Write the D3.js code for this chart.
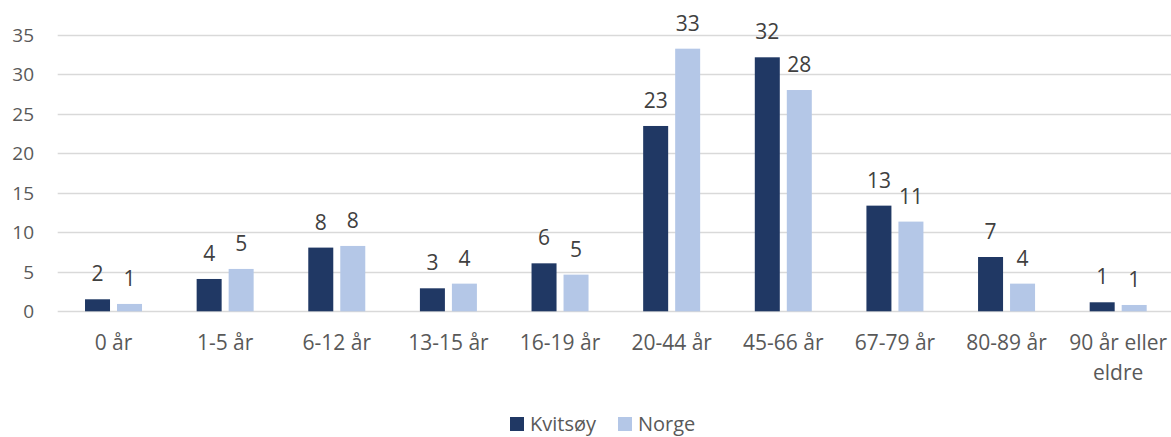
<!DOCTYPE html>
<html>
<head>
<meta charset="utf-8">
<script src="https://cdn.jsdelivr.net/npm/d3@7"></script>
<style>
  body { margin: 0; background: #fff; }
  svg text { font-family: "Open Sans", "Noto Sans", sans-serif; }
</style>
</head>
<body>
<div id="chart"></div>
<script>
var categories = ["0 år", "1-5 år", "6-12 år", "13-15 år", "16-19 år", "20-44 år", "45-66 år", "67-79 år", "80-89 år", "90 år eller eldre"];
var seriesNames = ["Kvitsøy", "Norge"];
var kvitsoy = [1.52, 4.09, 8.06, 2.91, 6.07, 23.45, 32.14, 13.37, 6.87, 1.14];
var norge = [0.93, 5.36, 8.27, 3.5, 4.64, 33.23, 28.0, 11.35, 3.5, 0.8];
var yTicks = [0, 5, 10, 15, 20, 25, 30, 35];
var colors = ["#203864", "#b4c7e7"];

var svg = d3.select("#chart").append("svg")
  .attr("width", 1171)
  .attr("height", 437),
  width = +svg.attr("width"),
  height = +svg.attr("height");

var x = d3.scaleBand().domain(categories).range([57.7, 1174]).padding(0);
var y = d3.scaleLinear().domain([0, 35]).range([311.3, 34.7]);
var groupW = 57;
var x1 = d3.scaleBand().domain(seriesNames).range([0, groupW]).paddingInner(0.21875).paddingOuter(0);

// gridlines
svg.append("g")
  .selectAll("line")
  .data(yTicks)
  .enter()
  .append("line")
  .attr("x1", 57.7)
  .attr("x2", width)
  .attr("y1", function(d) { return Math.round(y(d)) + 0.5; })
  .attr("y2", function(d) { return Math.round(y(d)) + 0.5; })
  .attr("stroke", "#d9d9d9")
  .attr("stroke-width", 1.3);

// y tick labels
svg.append("g")
  .selectAll("text")
  .data(yTicks)
  .enter()
  .append("text")
  .attr("x", 34)
  .attr("y", function(d) { return y(d); })
  .attr("dy", "0.36em")
  .attr("text-anchor", "end")
  .attr("fill", "#595959")
  .style("font-size", "19px")
  .text(function(d) { return d; });

var data = [kvitsoy, norge];

seriesNames.forEach(function(s, si) {
  var g = svg.append("g");
  g.selectAll("rect")
    .data(data[si])
    .enter()
    .append("rect")
    .attr("x", function(d, i) { return x(categories[i]) + x.bandwidth() / 2 - groupW / 2 + x1(s); })
    .attr("y", function(d) { return y(d); })
    .attr("width", x1.bandwidth())
    .attr("height", function(d) { return y(0) - y(d); })
    .attr("fill", colors[si]);

  g.selectAll("text")
    .data(data[si])
    .enter()
    .append("text")
    .attr("x", function(d, i) { return x(categories[i]) + x.bandwidth() / 2 - groupW / 2 + x1(s) + x1.bandwidth() / 2; })
    .attr("y", function(d) { return y(d) - 18; })
    .attr("text-anchor", "middle")
    .attr("fill", "#404040")
    .style("font-size", "21px")
    .text(function(d) { return Math.round(d); });
});

// category labels
var catLines = { "90 år eller eldre": ["90 år eller", "eldre"] };
var cat = svg.append("g")
  .selectAll("text")
  .data(categories)
  .enter()
  .append("text")
  .attr("x", function(d) { return x(d) + x.bandwidth() / 2; })
  .attr("y", 350)
  .attr("text-anchor", "middle")
  .attr("fill", "#595959")
  .style("font-size", "21px");

cat.selectAll("tspan")
  .data(function(d) { return catLines[d] || [d]; })
  .enter()
  .append("tspan")
  .attr("x", function() { var p = d3.select(this.parentNode).datum(); return x(p) + x.bandwidth() / 2; })
  .attr("dy", function(d, i) { return i === 0 ? 0 : 30; })
  .text(function(d) { return d; });

// legend
var legend = svg.append("g");
var legendItems = [
  { name: seriesNames[0], color: colors[0], x: 510 },
  { name: seriesNames[1], color: colors[1], x: 618 }
];
legendItems.forEach(function(l) {
  legend.append("rect")
    .attr("x", l.x)
    .attr("y", 417)
    .attr("width", 14)
    .attr("height", 14)
    .attr("fill", l.color);
  legend.append("text")
    .attr("x", l.x + 20)
    .attr("y", 431)
    .attr("fill", "#595959")
    .style("font-size", "20px")
    .text(l.name);
});
</script>
</body>
</html>
